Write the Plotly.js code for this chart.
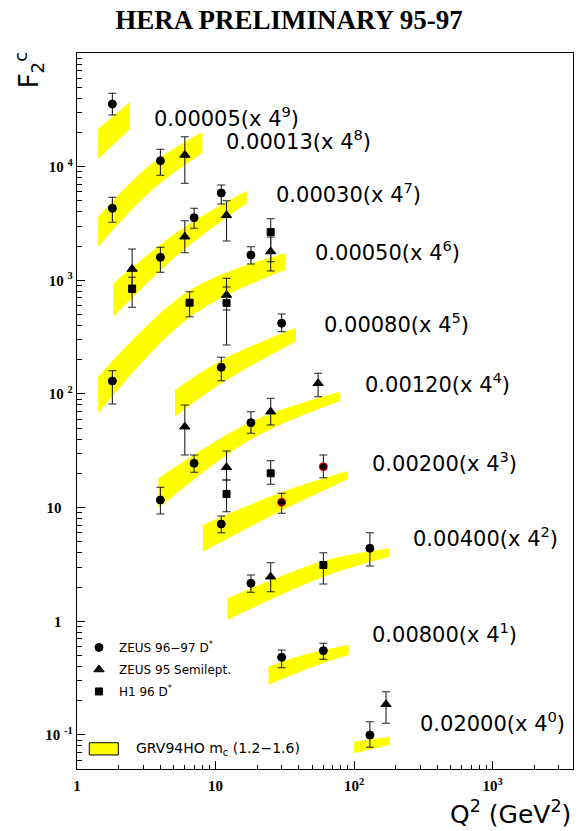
<!DOCTYPE html>
<html><head><meta charset="utf-8">
<script src="https://cdn.plot.ly/plotly-3.0.1.min.js"></script>
<style>html,body{margin:0;padding:0;background:#fff;}#chart{width:578px;height:831px;}</style>
</head><body><div id="chart"></div>
<script>
// ---- axis ticks ----
const xTickVals = [1, 10, 100, 1000];
const xTickText = ['1', '10', '10<sup>2</sup>', '10<sup>3</sup>'];
const yTickVals = [0.1, 1, 10, 100, 1000, 10000];
const yTickText = ['10 <sup>-1</sup>', '1\u00a0\u00a0\u00a0', '10\u00a0\u00a0\u00a0', '10 <sup>2</sup>', '10 <sup>3</sup>', '10 <sup>4</sup>'];

// ---- x-bin labels (with scale factors) ----
const bandLabels = ['0.00005(x 4<sup>9</sup>)', '0.00013(x 4<sup>8</sup>)', '0.00030(x 4<sup>7</sup>)',
  '0.00050(x 4<sup>6</sup>)', '0.00080(x 4<sup>5</sup>)', '0.00120(x 4<sup>4</sup>)', '0.00200(x 4<sup>3</sup>)',
  '0.00400(x 4<sup>2</sup>)', '0.00800(x 4<sup>1</sup>)', '0.02000(x 4<sup>0</sup>)'];

// ---- GRV94HO bands (scaled F2c, lower / upper edge) ----
const bandQ2 = [
  [1.42, 2.41], [1.42, 3.37, 8.04], [1.83, 5.55, 16.8], [1.42, 6.55, 31.8], [5.1, 11.1, 38.0],
  [3.87, 18.1, 79.5], [8.09, 30.1, 90.3], [12.2, 60.2, 180], [24.1, 46.7, 91.3], [100, 180]];
const bandHi = [
  [21450, 37060], [3628, 10340, 20180], [941.0, 2771, 6143], [141.8, 821.5, 1728], [108.3, 198.9, 382.7],
  [18.10, 56.99, 104.7], [7.030, 13.72, 20.99], [1.592, 3.389, 4.385], [0.3982, 0.5201, 0.6180], [0.08714, 0.09643]];
const bandLo = [
  [11680, 21450], [1975, 6020, 13190], [478.2, 1739, 4758], [67.55, 475.4, 1232], [63.07, 124.9, 289.4],
  [9.858, 39.90, 86.70], [4.093, 9.430, 17.74], [1.026, 2.466, 3.698], [0.2749, 0.3840, 0.5047], [0.06885, 0.08149]];

// ---- ZEUS 96-97 D* ----
const zeusDsQ2 = [1.8, 1.8, 4, 4, 7, 11, 1.8, 18, 11, 30, 4, 7, 18, 11, 30, 60, 18, 130, 30, 60, 130];
const zeusDsF2 = [35590, 4300, 11280, 1594, 3554, 5865, 130.0, 1670, 171.6, 418.4, 11.67, 24.54, 55.85, 7.174, 11.13, 22.90, 2.158, 4.385, 0.4818, 0.5507, 0.0998];
const zeusDsHi = [44210, 5375, 14210, 1952, 4300, 6893, 160.2, 1975, 210.1, 505.1, 15.09, 29.03, 69.80, 8.435, 13.36, 29.03, 2.552, 6.014, 0.5585, 0.6397, 0.1306];
const zeusDsLo = [28480, 3238, 8391, 1176, 2868, 4692, 81.6, 1391, 130.8, 352.9, 8.785, 20.44, 45.06, 6.014, 8.908, 18.33, 1.798, 3.063, 0.3903, 0.4625, 0.0778];
const zeusDsEdge = ['black','black','black','black','black','black','black','black','black','black','black','black','black','black','red','red','black','black','black','black','black'];

// ---- ZEUS 95 semileptonic ----
const zeusSlQ2 = [6, 2.5, 6, 12, 12, 25, 6, 25, 55, 12, 25, 170];
const zeusSlF2 = [12660, 1257, 2419, 3732, 742.6, 1792, 51.50, 69.80, 124.1, 22.62, 2.466, 0.1859];
const zeusSlHi = [18340, 1886, 3345, 5016, 1041, 2404, 79.95, 91.56, 151.9, 31.48, 3.275, 0.2399];
const zeusSlLo = [7136, 909, 1749, 2217, 548.0, 1207, 29.03, 53.31, 94.58, 17.50, 1.820, 0.1265];

// ---- H1 96 D* ----
const h1Q2 = [2.5, 6.5, 12, 25, 12, 25, 60];
const h1F2 = [838.1, 635.3, 631.5, 2661, 13.17, 20.04, 3.125];
const h1Hi = [1063, 793.6, 873.0, 3483, 17.50, 25.86, 4.010];
const h1Lo = [578.8, 478.2, 269.6, 1458, 9.203, 16.03, 2.127];

// label anchor positions (paper coords)
const labelX = [0.151, 0.296, 0.397, 0.476, 0.493, 0.577, 0.590, 0.674, 0.590, 0.687];
const labelY = [0.911, 0.879, 0.805, 0.723, 0.623, 0.539, 0.429, 0.324, 0.190, 0.066];

function minorVals(k0, k1) {
  const v = [];
  for (let k = k0; k <= k1; k++) for (let m = 2; m <= 9; m++) v.push(m * Math.pow(10, k));
  return v;
}
function diff(a, b) { return a.map((v, i) => v - b[i]); }

const traces = [];
for (let i = 0; i < bandQ2.length; i++) {
  traces.push({x: bandQ2[i], y: bandLo[i], mode: 'lines', type: 'scatter',
    line: {width: 0, shape: 'spline', color: '#ffff00'}, showlegend: false, hoverinfo: 'skip'});
  traces.push({x: bandQ2[i], y: bandHi[i], mode: 'lines', type: 'scatter', fill: 'tonexty', fillcolor: '#ffff00',
    line: {width: 0, shape: 'spline', color: '#ffff00'}, showlegend: false, hoverinfo: 'skip'});
}
function pts(name, q2, f2, hi, lo, symbol, size, edge, grp) {
  return {x: q2, y: f2, name: name, type: 'scatter', mode: 'markers', legendgroup: grp,
    marker: {symbol: symbol, size: size, color: 'black', line: {color: edge, width: 1}},
    error_y: {type: 'data', symmetric: false, array: diff(hi, f2), arrayminus: diff(f2, lo),
      color: '#222', thickness: 1.1, width: 4}};
}
traces.push(pts('ZEUS 96\u221297 D<sup>*</sup>', zeusDsQ2, zeusDsF2, zeusDsHi, zeusDsLo, 'circle', 8, zeusDsEdge, 'a'));
traces.push(pts('ZEUS 95 Semilept.', zeusSlQ2, zeusSlF2, zeusSlHi, zeusSlLo, 'triangle-up', 9, 'black', 'b'));
traces.push(pts('H1 96 D<sup>*</sup>', h1Q2, h1F2, h1Hi, h1Lo, 'square', 7, 'black', 'c'));

const tickFont = {family: 'Liberation Serif', size: 15, color: 'black', weight: 'bold'};
const annotations = bandLabels.map((t, i) => ({text: t, xref: 'paper', yref: 'paper', x: labelX[i], y: labelY[i],
  xanchor: 'left', yanchor: 'middle', showarrow: false, font: {family: 'DejaVu Sans', size: 21, color: 'black'}}));
annotations.push({text: 'GRV94HO m<sub>c</sub> (1.2\u22121.6)', xref: 'paper', yref: 'paper', x: 0.115, y: 0.028,
  xanchor: 'left', yanchor: 'middle', showarrow: false, font: {family: 'DejaVu Sans', size: 14, color: 'black'}});
annotations.push({text: 'Q<sup>2</sup> (GeV<sup>2</sup>)', xref: 'paper', yref: 'paper', x: 1.0, y: -0.061,
  xanchor: 'right', yanchor: 'middle', showarrow: false, font: {family: 'DejaVu Sans', size: 25, color: 'black'}});
annotations.push({text: 'F<sub>2</sub><sup>c</sup>', xref: 'paper', yref: 'paper', x: -0.097, y: 0.977, textangle: -90,
  xanchor: 'center', yanchor: 'middle', showarrow: false, font: {family: 'DejaVu Sans', size: 26, color: 'black'}});

const layout = {
  width: 578, height: 831,
  margin: {l: 77, r: 5, t: 53, b: 62},
  paper_bgcolor: 'white', plot_bgcolor: 'white',
  title: {text: 'HERA PRELIMINARY 95-97', x: 0.5, xref: 'container', xanchor: 'center', y: 0.976, yref: 'container', yanchor: 'middle',
    font: {family: 'Liberation Serif', size: 27, color: 'black', weight: 'bold'}},
  xaxis: {type: 'log', range: [0, 3.58], showgrid: false, zeroline: false, showline: true, linecolor: 'black', linewidth: 1.2,
    mirror: true, ticks: 'inside', ticklen: 8, tickwidth: 1, tickcolor: 'black', tickmode: 'array',
    tickvals: xTickVals, ticktext: xTickText, tickfont: tickFont, ticklabelstandoff: 3,
    minor: {tickmode: 'array', tickvals: minorVals(0, 3), ticks: 'inside', ticklen: 4.5, tickwidth: 1, tickcolor: 'black', showgrid: false}},
  yaxis: {type: 'log', range: [-1.3, 5.0], showgrid: false, zeroline: false, showline: true, linecolor: 'black', linewidth: 1.2,
    mirror: true, ticks: 'inside', ticklen: 8, tickwidth: 1, tickcolor: 'black', tickmode: 'array',
    tickvals: yTickVals, ticktext: yTickText, tickfont: tickFont,
    minor: {tickmode: 'array', tickvals: minorVals(-2, 4), ticks: 'inside', ticklen: 4.5, tickwidth: 1, tickcolor: 'black', showgrid: false}},
  showlegend: true,
  legend: {x: 0.004, y: 0.19, xanchor: 'left', yanchor: 'top', bgcolor: 'rgba(0,0,0,0)', borderwidth: 0,
    font: {family: 'DejaVu Sans', size: 12, color: 'black'}, tracegroupgap: 3, traceorder: 'grouped'},
  shapes: [{type: 'rect', xref: 'paper', yref: 'paper', x0: 0.0248, x1: 0.0833, y0: 0.0196, y1: 0.0367,
    fillcolor: '#ffff00', line: {color: 'black', width: 1}}],
  annotations: annotations
};
Plotly.newPlot('chart', traces, layout, {staticPlot: true, displayModeBar: false});
</script></body></html>
